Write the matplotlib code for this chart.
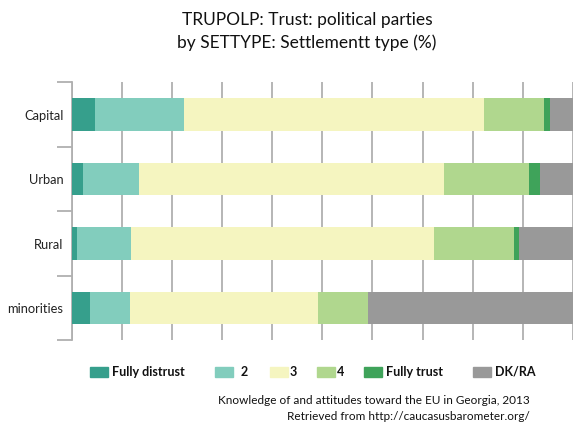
import matplotlib
matplotlib.use("Agg")
import matplotlib.pyplot as plt
import numpy as np
from matplotlib.patches import Rectangle

plt.rcParams["font.family"] = ["Lato", "DejaVu Sans"]

categories = ["Capital", "Urban", "Rural", "minorities"]
series_names = ["Fully distrust", "2", "3", "4", "Fully trust", "DK/RA"]
fully_distrust = [4.7, 2.3, 1.0, 3.6]
two = [17.7, 11.2, 10.8, 8.0]
three = [59.8, 60.8, 60.4, 37.5]
four = [12.0, 17.0, 16.0, 10.0]
fully_trust = [1.2, 2.2, 1.0, 0.0]
dk_ra = [4.6, 6.5, 10.8, 40.9]
colors = ["#369f8c", "#82cdbd", "#f5f5c0", "#b0d78e", "#3fa35a", "#999999"]

series = [fully_distrust, two, three, four, fully_trust, dk_ra]

fig = plt.figure(figsize=(5.73, 4.25), dpi=100)
ax = fig.add_axes([0.1251, 0.1993, 0.8749, 0.6071])

y = np.arange(len(categories))
left = np.zeros(len(categories))
for vals, col in zip(series, colors):
    vals = np.array(vals)
    ax.barh(y, vals, left=left, height=0.5, color=col, zorder=3)
    left += vals

total = left.max()
ax.set_xlim(0, total)
ax.set_ylim(len(categories) - 0.5, -0.5)

ax.set_xticks(np.linspace(0, total, 11))
ax.xaxis.grid(True, color="#b0b0b0", linewidth=1.3, zorder=0)
ax.tick_params(axis="x", length=0, labelbottom=False)

ax.set_yticks(np.arange(-0.5, len(categories)), minor=False)
ax.set_yticklabels([])
ax.set_yticks(y, minor=True)
ax.set_yticklabels(categories, minor=True, fontsize=9.3, color="#222222")
ax.tick_params(axis="y", which="major", length=11, width=1.3, color="#b0b0b0")
ax.tick_params(axis="y", which="minor", length=0, pad=6)

for side in ["top", "right", "bottom"]:
    ax.spines[side].set_visible(False)
ax.spines["left"].set_color("#b0b0b0")
ax.spines["left"].set_linewidth(1.3)

fig.text(307 / 573, 1 - 20 / 425, "TRUPOLP: Trust: political parties",
         ha="center", va="center", fontsize=12.5, color="#111111")
fig.text(307 / 573, 1 - 43 / 425, "by SETTYPE: Settlementt type (%)",
         ha="center", va="center", fontsize=12.5, color="#111111")

# legend
patch_x = [90, 215, 270, 317, 364, 473]
text_x = [112, 241, 290, 337, 386, 495]
W, H = 573.0, 425.0
for name, col, px, tx in zip(series_names, colors, patch_x, text_x):
    fig.patches.append(Rectangle((px / W, 1 - 377 / H), 18 / W, 10 / H,
                                 transform=fig.transFigure, color=col))
    fig.text(tx / W, 1 - 372 / H, name, ha="left", va="center",
             fontsize=9, fontweight="bold", color="#111111")

fig.text(530 / W, 1 - 401 / H, "Knowledge of and attitudes toward the EU in Georgia, 2013",
         ha="right", va="center", fontsize=8.5, color="#111111")
fig.text(530 / W, 1 - 416 / H, "Retrieved from http://caucasusbarometer.org/",
         ha="right", va="center", fontsize=8.5, color="#111111")

fig.savefig("out.png", dpi=100)
